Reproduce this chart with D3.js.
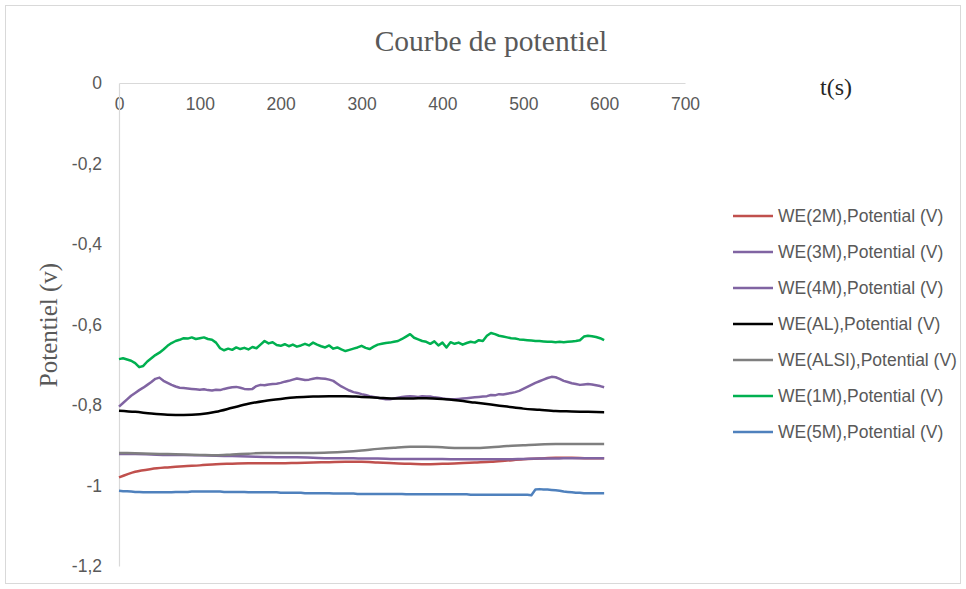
<!DOCTYPE html>
<html>
<head>
<meta charset="utf-8">
<script src="https://cdn.jsdelivr.net/npm/d3@7"></script>
<style>
  body { margin: 0; background: #fff; }
  svg { display: block; }
</style>
</head>
<body>
<svg id="chart" width="966" height="589"></svg>
<script>
// Axis ticks
const xTicks = [0, 100, 200, 300, 400, 500, 600, 700];
const yTicks = [0, -0.2, -0.4, -0.6, -0.8, -1, -1.2];

// Sampling instants (s)
const timeFine = d3.range(0, 601, 5);
const timeCoarse = d3.range(0, 601, 20);

// Potential (V) recorded every 5 s
const we1M = [
  -0.686,-0.684,-0.687,-0.690,-0.696,-0.706,-0.703,-0.692,-0.684,-0.676,
  -0.670,-0.662,-0.653,-0.646,-0.641,-0.638,-0.634,-0.635,-0.632,-0.636,
  -0.634,-0.632,-0.636,-0.638,-0.645,-0.659,-0.664,-0.660,-0.663,-0.657,
  -0.661,-0.658,-0.662,-0.656,-0.659,-0.650,-0.641,-0.647,-0.644,-0.651,
  -0.653,-0.649,-0.654,-0.650,-0.655,-0.652,-0.648,-0.652,-0.645,-0.650,
  -0.654,-0.657,-0.652,-0.660,-0.657,-0.662,-0.666,-0.663,-0.660,-0.657,
  -0.653,-0.658,-0.661,-0.655,-0.650,-0.648,-0.646,-0.645,-0.643,-0.641,
  -0.636,-0.630,-0.624,-0.633,-0.637,-0.641,-0.643,-0.648,-0.642,-0.652,
  -0.645,-0.657,-0.644,-0.648,-0.645,-0.650,-0.646,-0.643,-0.645,-0.639,
  -0.641,-0.628,-0.621,-0.624,-0.628,-0.630,-0.632,-0.634,-0.635,-0.637,
  -0.638,-0.639,-0.640,-0.641,-0.641,-0.642,-0.643,-0.643,-0.644,-0.643,
  -0.644,-0.643,-0.642,-0.641,-0.639,-0.630,-0.628,-0.629,-0.631,-0.634,
  -0.639
];
const we4M = [
  -0.804,-0.795,-0.786,-0.777,-0.770,-0.763,-0.757,-0.750,-0.743,-0.735,
  -0.732,-0.740,-0.745,-0.750,-0.754,-0.757,-0.758,-0.759,-0.760,-0.761,
  -0.762,-0.761,-0.763,-0.764,-0.762,-0.763,-0.760,-0.758,-0.756,-0.755,
  -0.757,-0.760,-0.761,-0.760,-0.753,-0.750,-0.751,-0.749,-0.748,-0.747,
  -0.745,-0.742,-0.740,-0.737,-0.734,-0.736,-0.738,-0.737,-0.735,-0.733,
  -0.734,-0.735,-0.737,-0.740,-0.747,-0.754,-0.759,-0.764,-0.768,-0.770,
  -0.773,-0.775,-0.778,-0.780,-0.782,-0.784,-0.786,-0.786,-0.784,-0.782,
  -0.780,-0.779,-0.778,-0.779,-0.780,-0.778,-0.779,-0.779,-0.781,-0.782,
  -0.784,-0.785,-0.786,-0.786,-0.785,-0.784,-0.783,-0.782,-0.781,-0.780,
  -0.779,-0.778,-0.775,-0.776,-0.773,-0.774,-0.772,-0.770,-0.768,-0.765,
  -0.760,-0.755,-0.750,-0.745,-0.741,-0.737,-0.733,-0.730,-0.731,-0.735,
  -0.740,-0.743,-0.746,-0.748,-0.750,-0.749,-0.748,-0.749,-0.751,-0.753,
  -0.756
];
const we5M = [
  -1.013,-1.014,-1.014,-1.015,-1.016,-1.016,-1.017,-1.017,-1.017,-1.017,
  -1.017,-1.017,-1.017,-1.017,-1.016,-1.016,-1.016,-1.016,-1.015,-1.015,
  -1.015,-1.015,-1.015,-1.015,-1.015,-1.015,-1.016,-1.016,-1.016,-1.016,
  -1.016,-1.016,-1.017,-1.017,-1.017,-1.017,-1.017,-1.017,-1.017,-1.017,
  -1.018,-1.018,-1.018,-1.018,-1.018,-1.018,-1.019,-1.019,-1.019,-1.019,
  -1.019,-1.019,-1.019,-1.020,-1.020,-1.020,-1.020,-1.020,-1.020,-1.021,
  -1.021,-1.021,-1.021,-1.021,-1.021,-1.021,-1.021,-1.021,-1.021,-1.021,
  -1.021,-1.022,-1.022,-1.022,-1.022,-1.022,-1.022,-1.022,-1.022,-1.022,
  -1.022,-1.022,-1.022,-1.022,-1.022,-1.022,-1.022,-1.023,-1.023,-1.023,
  -1.023,-1.023,-1.023,-1.023,-1.023,-1.023,-1.023,-1.023,-1.023,-1.023,
  -1.023,-1.023,-1.024,-1.010,-1.009,-1.010,-1.010,-1.011,-1.012,-1.013,
  -1.015,-1.016,-1.017,-1.018,-1.018,-1.019,-1.019,-1.019,-1.019,-1.019,
  -1.019
];

// Potential (V) recorded every 20 s
const we2M = [
  -0.980,-0.966,-0.959,-0.955,-0.952,-0.950,-0.947,-0.946,-0.945,-0.945,
  -0.945,-0.944,-0.943,-0.942,-0.941,-0.941,-0.943,-0.945,-0.946,-0.947,
  -0.946,-0.945,-0.943,-0.941,-0.938,-0.935,-0.933,-0.931,-0.931,-0.932,
  -0.932
];
const we3M = [
  -0.922,-0.922,-0.923,-0.924,-0.924,-0.925,-0.926,-0.927,-0.928,-0.929,
  -0.930,-0.930,-0.931,-0.932,-0.932,-0.933,-0.933,-0.934,-0.934,-0.934,
  -0.934,-0.935,-0.935,-0.935,-0.935,-0.934,-0.933,-0.933,-0.932,-0.932,
  -0.932
];
const weAL = [
  -0.814,-0.817,-0.821,-0.824,-0.825,-0.823,-0.817,-0.807,-0.797,-0.790,
  -0.785,-0.781,-0.779,-0.778,-0.778,-0.780,-0.782,-0.784,-0.784,-0.783,
  -0.785,-0.789,-0.794,-0.799,-0.804,-0.809,-0.812,-0.815,-0.816,-0.817,
  -0.818
];
const weALSI = [
  -0.919,-0.920,-0.921,-0.922,-0.923,-0.924,-0.925,-0.923,-0.921,-0.919,
  -0.919,-0.919,-0.919,-0.918,-0.916,-0.913,-0.909,-0.906,-0.904,-0.904,
  -0.905,-0.907,-0.907,-0.905,-0.902,-0.900,-0.898,-0.897,-0.897,-0.897,
  -0.897
];

const seriesNames = [
  "WE(2M),Potential (V)", "WE(3M),Potential (V)", "WE(4M),Potential (V)",
  "WE(AL),Potential (V)", "WE(ALSI),Potential (V)", "WE(1M),Potential (V)",
  "WE(5M),Potential (V)"
];
const seriesColors = ["#C0504D", "#8064A2", "#8064A2", "#000000", "#7F7F7F", "#00B050", "#4F81BD"];
const seriesValues = [we2M, we3M, we4M, weAL, weALSI, we1M, we5M];
const seriesTimes = [timeCoarse, timeCoarse, timeFine, timeCoarse, timeCoarse, timeFine, timeFine];
const seriesSmooth = [true, true, false, true, true, false, false];

const svg = d3.select("#chart");
const W = 966, H = 589;

// Chart frame
svg.append("rect")
  .attr("x", 5.5).attr("y", 5.5)
  .attr("width", W - 11).attr("height", H - 11)
  .attr("fill", "#fff").attr("stroke", "#d9d9d9").attr("stroke-width", 1);

const x = d3.scaleLinear().domain([0, 700]).range([119, 685]);
const y = d3.scaleLinear().domain([0, -1.2]).range([83, 566]);

const labelFont = "'Liberation Sans', Arial, sans-serif";
const serifFont = "'Liberation Serif', 'Times New Roman', serif";

// Title
svg.append("text")
  .attr("x", 491).attr("y", 51)
  .attr("text-anchor", "middle")
  .attr("font-family", serifFont)
  .attr("font-size", 29.5)
  .attr("fill", "#595959")
  .text("Courbe de potentiel");

// X axis along the zero line, labels beneath
const xAxis = d3.axisBottom(x).tickValues(xTicks).tickSize(0).tickPadding(15)
  .tickFormat(d => String(d));
const gx = svg.append("g").attr("transform", `translate(0,${y(0)})`).call(xAxis);
gx.select(".domain").attr("stroke", "#d9d9d9").attr("stroke-width", 1.2);
gx.selectAll("text").attr("font-family", labelFont).attr("font-size", 17.5).attr("fill", "#595959");

// Y axis
const fmtY = d => String(+d.toFixed(1)).replace(".", ",");
const yAxis = d3.axisLeft(y).tickValues(yTicks).tickSize(0).tickPadding(17).tickFormat(fmtY);
const gy = svg.append("g").attr("transform", `translate(${x(0)},0)`).call(yAxis);
gy.select(".domain").attr("stroke", "#d9d9d9").attr("stroke-width", 1.2);
gy.selectAll("text").attr("font-family", labelFont).attr("font-size", 17.5).attr("fill", "#595959");

// Axis titles
svg.append("text")
  .attr("x", 836).attr("y", 95)
  .attr("text-anchor", "middle")
  .attr("font-family", serifFont)
  .attr("font-size", 24)
  .attr("fill", "#262626")
  .text("t(s)");

svg.append("text")
  .attr("transform", `translate(57,${325}) rotate(-90)`)
  .attr("text-anchor", "middle")
  .attr("font-family", serifFont)
  .attr("font-size", 25)
  .attr("fill", "#595959")
  .text("Potentiel (v)");

// Series lines
const plot = svg.append("g");
seriesValues.forEach((vals, i) => {
  const pts = d3.zip(seriesTimes[i], vals);
  const line = d3.line()
    .x(d => x(d[0]))
    .y(d => y(d[1]))
    .curve(seriesSmooth[i] ? d3.curveMonotoneX : d3.curveLinear);
  plot.append("path")
    .datum(pts)
    .attr("d", line)
    .attr("fill", "none")
    .attr("stroke", seriesColors[i])
    .attr("stroke-width", 2.5)
    .attr("stroke-linejoin", "round");
});

// Legend
const legend = svg.append("g").attr("transform", "translate(733,216)");
seriesNames.forEach((name, i) => {
  const row = legend.append("g").attr("transform", `translate(0,${i * 36})`);
  row.append("line")
    .attr("x1", 0).attr("x2", 40).attr("y1", 0).attr("y2", 0)
    .attr("stroke", seriesColors[i]).attr("stroke-width", 2.5);
  row.append("text")
    .attr("x", 45).attr("y", 0).attr("dy", "0.35em")
    .attr("font-family", labelFont)
    .attr("font-size", 17.5)
    .attr("fill", "#595959")
    .text(name);
});
</script>
</body>
</html>
